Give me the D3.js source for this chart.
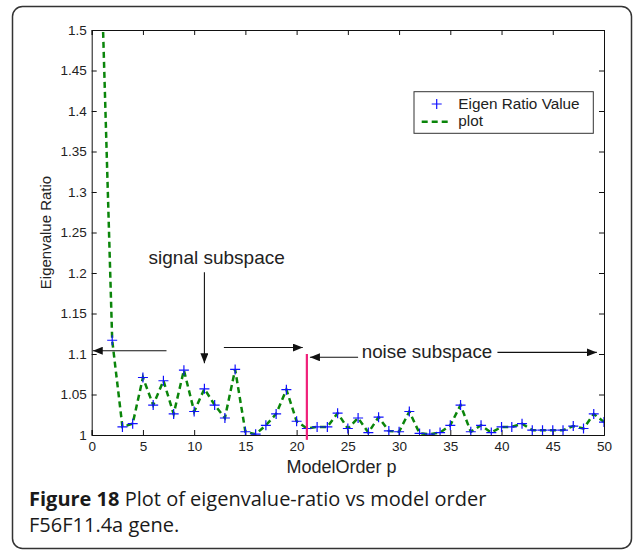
<!DOCTYPE html>
<html lang="en">

<head>
	<meta charset="UTF-8" />
	<meta name="viewport" content="width=device-width, initial-scale=1.0" />
	<script src="https://d3js.org/d3.v7.min.js"></script>
	<style>
		body { margin: 0; background: #fff; }
		svg text { font-family: "Liberation Sans", Arial, sans-serif; fill: #222; }
		svg text.cap { font-family: "Open Sans", sans-serif; fill: #1a1a1a; }
	</style>
</head>

<body>
	<svg width="634" height="560"></svg>

	<script>
		// model order p and the eigenvalue ratio
		var modelOrder = d3.range(1, 51);
		var eigenRatio = [
			1.547, 1.117, 1.010, 1.014, 1.071, 1.037, 1.067, 1.026, 1.080, 1.029,
			1.057, 1.037, 1.021, 1.081, 1.004, 1.001, 1.012, 1.026, 1.056, 1.017,
			1.008, 1.010, 1.010, 1.027, 1.008, 1.021, 1.003, 1.022, 1.005, 1.004,
			1.029, 1.002, 1.001, 1.003, 1.012, 1.037, 1.004, 1.012, 1.003, 1.010,
			1.010, 1.014, 1.006, 1.006, 1.006, 1.006, 1.011, 1.008, 1.026, 1.016
		];
		var xTicks = d3.range(0, 51, 5);
		var yTicks = d3.range(1, 1.5001, 0.05);
		var splitOrder = 21;          // boundary signal / noise subspace
		var splitRange = [0.994, 1.1];

		var svg = d3.select("svg");

		// outer panel with rounded corners
		svg.append("rect")
			.attr("x", 12.5).attr("y", 6.5)
			.attr("width", 619).attr("height", 542)
			.attr("rx", 10)
			.attr("fill", "#fff")
			.attr("stroke", "#333")
			.attr("stroke-width", 1.5);

		var plotL = 91.7, plotR = 604, plotT = 30, plotB = 435;

		var x = d3.scaleLinear().domain([0, 50]).range([plotL, plotR]);
		var y = d3.scaleLinear().domain([1, 1.5]).range([plotB, plotT]);

		var defs = svg.append("defs");
		defs.append("clipPath").attr("id", "plotclip")
			.append("rect")
			.attr("x", plotL).attr("y", plotT)
			.attr("width", plotR - plotL).attr("height", plotB - plotT);

		var arrow = defs.append("marker")
			.attr("id", "head")
			.attr("viewBox", "0 0 10 8")
			.attr("refX", 10).attr("refY", 4)
			.attr("markerWidth", 10).attr("markerHeight", 8)
			.attr("markerUnits", "userSpaceOnUse")
			.attr("orient", "auto");
		arrow.append("path").attr("d", "M0,0L10,4L0,8Z").attr("fill", "#111");

		// axes, ticks pointing inward on all four sides
		var fmtY = function(d) { return d3.format(".2~f")(d); };

		svg.append("g")
			.attr("transform", "translate(0," + plotB + ")")
			.call(d3.axisBottom(x).tickValues(xTicks).tickSize(-5).tickPadding(6.5))
			.call(g => g.selectAll("text").style("font-size", "13.5px"));

		svg.append("g")
			.attr("transform", "translate(" + plotL + ",0)")
			.call(d3.axisLeft(y).tickValues(yTicks).tickFormat(fmtY).tickSize(-5).tickPadding(5))
			.call(g => g.selectAll("text").style("font-size", "13.5px"));

		svg.append("g")
			.attr("transform", "translate(0," + plotT + ")")
			.call(d3.axisTop(x).tickValues(xTicks).tickFormat("").tickSize(-5));

		svg.append("g")
			.attr("transform", "translate(" + plotR + ",0)")
			.call(d3.axisRight(y).tickValues(yTicks).tickFormat("").tickSize(-5));

		svg.selectAll(".domain").attr("stroke", "#111");
		svg.selectAll(".tick line").attr("stroke", "#111");

		// dashed green line through the points
		var line = d3.line()
			.x((d, i) => x(modelOrder[i]))
			.y(d => y(d));

		svg.append("path")
			.datum(eigenRatio)
			.attr("clip-path", "url(#plotclip)")
			.attr("fill", "none")
			.attr("stroke", "#0a850a")
			.attr("stroke-width", 2.5)
			.attr("stroke-dasharray", "6,4")
			.attr("d", line);

		// blue plus markers
		svg.append("g")
			.attr("clip-path", "url(#plotclip)")
			.selectAll("path")
			.data(eigenRatio)
			.enter()
			.append("path")
			.attr("d", "M-5,0H5M0,-5V5")
			.attr("transform", (d, i) => "translate(" + x(modelOrder[i]) + "," + y(d) + ")")
			.attr("stroke", "#1010ff")
			.attr("stroke-width", 1.2)
			.attr("fill", "none");

		// magenta split line at p = 21
		svg.append("line")
			.attr("x1", x(splitOrder)).attr("x2", x(splitOrder))
			.attr("y1", y(splitRange[0])).attr("y2", y(splitRange[1]))
			.attr("stroke", "#f0207a")
			.attr("stroke-width", 2.2);

		// annotation arrows
		function arrowLine(x1, y1, x2, y2) {
			svg.append("line")
				.attr("x1", x1).attr("y1", y1).attr("x2", x2).attr("y2", y2)
				.attr("stroke", "#111")
				.attr("stroke-width", 1.1)
				.attr("marker-end", "url(#head)");
		}
		arrowLine(x(7.3), y(1.104), x(0.1), y(1.104));
		arrowLine(x(11), y(1.201), x(11), y(1.0885));
		arrowLine(x(12.9), y(1.108), x(20.6), y(1.108));
		arrowLine(x(26), y(1.096), x(21.3), y(1.096));
		arrowLine(x(39.6), y(1.102), x(49.3), y(1.102));

		svg.append("text")
			.attr("x", x(12.2)).attr("y", 263.5)
			.attr("text-anchor", "middle")
			.style("font-size", "19px")
			.text("signal subspace");

		svg.append("text")
			.attr("x", 427).attr("y", 358)
			.attr("text-anchor", "middle")
			.style("font-size", "18.8px")
			.text("noise subspace");

		// axis titles
		svg.append("text")
			.attr("x", 341.5).attr("y", 473)
			.attr("text-anchor", "middle")
			.style("font-size", "18px")
			.text("ModelOrder p");

		svg.append("text")
			.attr("transform", "translate(51," + (plotT + plotB) / 2 + ") rotate(-90)")
			.attr("text-anchor", "middle")
			.style("font-size", "15px")
			.text("Eigenvalue Ratio");

		// legend
		var lg = svg.append("g");
		lg.append("rect")
			.attr("x", 414).attr("y", 91.7)
			.attr("width", 179.3).attr("height", 41.6)
			.attr("fill", "#fff")
			.attr("stroke", "#333")
			.attr("stroke-width", 1);
		lg.append("path")
			.attr("d", "M-5,0H5M0,-5V5")
			.attr("transform", "translate(436.7,104)")
			.attr("stroke", "#1010ff")
			.attr("stroke-width", 1.2);
		lg.append("line")
			.attr("x1", 421.7).attr("x2", 448.3)
			.attr("y1", 121.7).attr("y2", 121.7)
			.attr("stroke", "#0a850a")
			.attr("stroke-width", 2.5)
			.attr("stroke-dasharray", "6,4");
		lg.append("text").attr("x", 458.3).attr("y", 108.5)
			.style("font-size", "15.3px").text("Eigen Ratio Value");
		lg.append("text").attr("x", 458.3).attr("y", 125.5)
			.style("font-size", "15.3px").text("plot");

		// figure caption
		var cap = svg.append("text")
			.attr("class", "cap")
			.attr("x", 29).attr("y", 506)
			.style("font-size", "20px");
		cap.append("tspan").style("font-weight", "bold").text("Figure 18");
		cap.append("tspan").text(" Plot of eigenvalue-ratio vs model order");
		svg.append("text")
			.attr("class", "cap")
			.attr("x", 29).attr("y", 532)
			.style("font-size", "20px")
			.text("F56F11.4a gene.");
	</script>
</body>

</html>
